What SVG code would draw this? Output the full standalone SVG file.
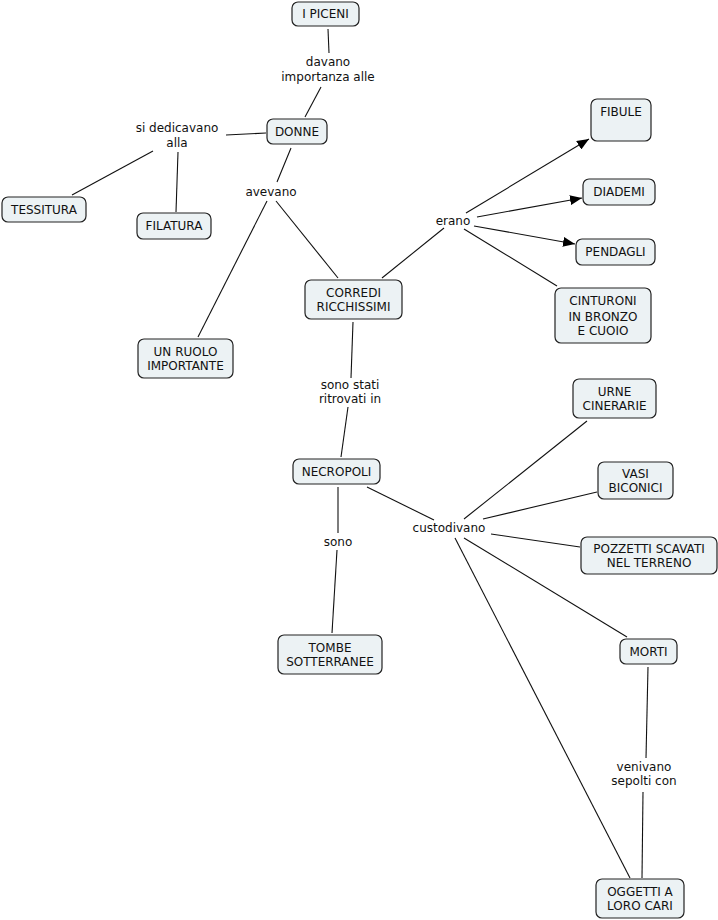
<svg xmlns="http://www.w3.org/2000/svg" width="718" height="920" viewBox="0 0 718 920">
<defs>
<style>
.n rect{fill:#ecf2f4;stroke:#222;stroke-width:1.2}
text{font-family:"DejaVu Sans","Verdana",sans-serif;font-size:12px;fill:#111;text-anchor:middle}
.c line{stroke:#111;stroke-width:1.1}
</style>
<marker id="ah" viewBox="0 0 12 10" refX="12" refY="5" markerWidth="12" markerHeight="10" markerUnits="userSpaceOnUse" orient="auto">
<path d="M0,0 L12,5 L0,10 z" fill="#000"/>
</marker>
</defs>
<rect width="718" height="920" fill="#fff"/>
<g id="connectors" class="c">
<line x1="328" y1="29" x2="329" y2="53"/>
<line x1="321" y1="87" x2="305" y2="117"/>
<line x1="266" y1="133" x2="226" y2="135"/>
<line x1="153" y1="151" x2="72" y2="195"/>
<line x1="178" y1="152" x2="176" y2="212"/>
<line x1="291" y1="148" x2="277" y2="182"/>
<line x1="267" y1="201" x2="198" y2="337"/>
<line x1="276" y1="201" x2="338" y2="278"/>
<line x1="382" y1="278" x2="444" y2="228"/>
<line x1="466" y1="213" x2="589" y2="139" marker-end="url(#ah)"/>
<line x1="477" y1="217" x2="582" y2="198" marker-end="url(#ah)"/>
<line x1="474" y1="226" x2="575" y2="244" marker-end="url(#ah)"/>
<line x1="464" y1="229" x2="557" y2="286"/>
<line x1="353" y1="322" x2="351" y2="378"/>
<line x1="348" y1="407" x2="341" y2="457"/>
<line x1="338" y1="487" x2="338" y2="533"/>
<line x1="337" y1="550" x2="332" y2="633"/>
<line x1="367" y1="487" x2="434" y2="520"/>
<line x1="464" y1="519" x2="587" y2="421"/>
<line x1="483" y1="519" x2="597" y2="492"/>
<line x1="491" y1="534" x2="580" y2="547"/>
<line x1="464" y1="538" x2="627" y2="637"/>
<line x1="455" y1="538" x2="630" y2="878"/>
<line x1="648" y1="667" x2="646" y2="758"/>
<line x1="643" y1="792" x2="642" y2="878"/>
</g>
<g id="labels">
<text x="328" y="66">davano</text>
<text x="328" y="81">importanza alle</text>
<text x="177" y="132">si dedicavano</text>
<text x="177" y="147">alla</text>
<text x="271" y="196">avevano</text>
<text x="453" y="225">erano</text>
<text x="350" y="389">sono stati</text>
<text x="350" y="403">ritrovati in</text>
<text x="338" y="546">sono</text>
<text x="449" y="532">custodivano</text>
<text x="644" y="771">venivano</text>
<text x="644" y="785">sepolti con</text>
</g>
<g id="n-ipiceni" class="n"><rect x="292" y="2" width="67" height="24" rx="6"/><text x="325.5" y="18">I PICENI</text></g>
<g id="n-donne" class="n"><rect x="267" y="119" width="60" height="25" rx="6"/><text x="297" y="136">DONNE</text></g>
<g id="n-tessitura" class="n"><rect x="2" y="197" width="84" height="25" rx="6"/><text x="44" y="214">TESSITURA</text></g>
<g id="n-filatura" class="n"><rect x="137" y="213" width="74" height="26" rx="6"/><text x="174" y="230">FILATURA</text></g>
<g id="n-corredi" class="n"><rect x="305" y="280" width="97" height="39" rx="6"/><text x="353.5" y="297">CORREDI</text><text x="353.5" y="311">RICCHISSIMI</text></g>
<g id="n-ruolo" class="n"><rect x="138" y="339" width="95" height="39" rx="6"/><text x="185.5" y="356">UN RUOLO</text><text x="185.5" y="370">IMPORTANTE</text></g>
<g id="n-fibule" class="n"><rect x="591" y="99" width="60" height="42" rx="6"/><text x="621" y="116">FIBULE</text></g>
<g id="n-diademi" class="n"><rect x="583" y="179" width="72" height="26" rx="6"/><text x="619" y="196">DIADEMI</text></g>
<g id="n-pendagli" class="n"><rect x="576" y="239" width="79" height="26" rx="6"/><text x="615.5" y="256">PENDAGLI</text></g>
<g id="n-cinturoni" class="n"><rect x="555" y="288" width="96" height="55" rx="6"/><text x="603" y="305">CINTURONI</text><text x="603" y="321">IN BRONZO</text><text x="603" y="335">E CUOIO</text></g>
<g id="n-necropoli" class="n"><rect x="293" y="459" width="87" height="25" rx="6"/><text x="336.5" y="476">NECROPOLI</text></g>
<g id="n-tombe" class="n"><rect x="278" y="635" width="104" height="39" rx="6"/><text x="330" y="652">TOMBE</text><text x="330" y="666">SOTTERRANEE</text></g>
<g id="n-urne" class="n"><rect x="573" y="379" width="83" height="39" rx="6"/><text x="614.5" y="396">URNE</text><text x="614.5" y="410">CINERARIE</text></g>
<g id="n-vasi" class="n"><rect x="598" y="462" width="75" height="37" rx="6"/><text x="635.5" y="478">VASI</text><text x="635.5" y="492">BICONICI</text></g>
<g id="n-pozzetti" class="n"><rect x="581" y="537" width="136" height="37" rx="6"/><text x="649" y="553">POZZETTI SCAVATI</text><text x="649" y="567">NEL TERRENO</text></g>
<g id="n-morti" class="n"><rect x="620" y="639" width="57" height="25" rx="6"/><text x="648.5" y="656">MORTI</text></g>
<g id="n-oggetti" class="n"><rect x="596" y="879" width="88" height="39" rx="6"/><text x="640" y="896">OGGETTI A</text><text x="640" y="910">LORO CARI</text></g>
</svg>
